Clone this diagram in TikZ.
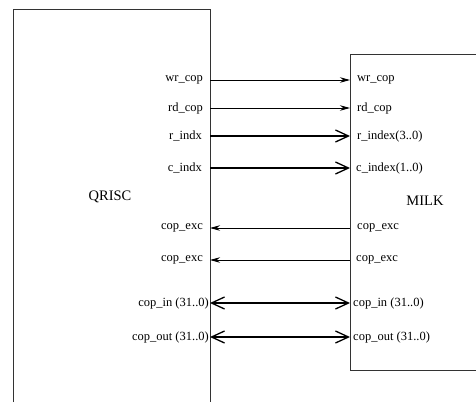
\documentclass[tikz,border=0pt]{standalone}
\usepackage{fontspec}
\setmainfont{Liberation Serif}
\usetikzlibrary{arrows.meta}
\begin{document}
\begin{tikzpicture}[x=1pt,y=-1pt,
  box/.style={line width=0.9pt, draw=black!80},
  lab/.style={font=\fontsize{12.5}{14}\selectfont, inner sep=0pt},
  big/.style={font=\fontsize{14.5}{16}\selectfont, inner sep=0pt},
  thinwire/.style={line width=0.8pt, -{Stealth[length=10pt,width=5.5pt]}},
  thinback/.style={line width=0.8pt, {Stealth[length=10pt,width=5.5pt]}-},
  bus/.style={line width=1.4pt, -{Straight Barb[length=13pt,width=12pt,line width=1.3pt]}},
  bibus/.style={line width=1.4pt, {Straight Barb[length=13pt,width=12pt,line width=1.3pt]}-{Straight Barb[length=13pt,width=12pt,line width=1.3pt]}}
]
\useasboundingbox (0,0) rectangle (476,402);
% QRISC box (open at bottom)
\coordinate (qbl) at (13,402);
\coordinate (qtl) at (13,9);
\coordinate (qtr) at (210,9);
\coordinate (qbr) at (210,402);
\draw[box] (qbl) -- (qtl) -- (qtr) -- (qbr);
% MILK box (open at right)
\coordinate (mtr) at (476,54);
\coordinate (mtl) at (350,54);
\coordinate (mbl) at (350,370);
\coordinate (mbr) at (476,370);
\draw[box] (mtr) -- (mtl) -- (mbl) -- (mbr);

\node[big] (qrisc) at (110,197) {QRISC};
\node[big] (milk) at (425,201) {MILK};

% ports
\foreach \n/\y in {a/80,b/108,c/136,d/168,e/228,f/260,g/303,h/337}{
  \coordinate (L\n) at (210,\y);
  \coordinate (R\n) at (350,\y);
}
% left labels
\node[lab,anchor=east] (la) at (203,80) {wr\_cop};
\node[lab,anchor=east] (lb) at (203,108) {rd\_cop};
\node[lab,anchor=east] (lc) at (202,136) {r\_indx};
\node[lab,anchor=east] (ld) at (202,168) {c\_indx};
\node[lab,anchor=east] (le) at (203,228) {cop\_exc};
\node[lab,anchor=east] (lf) at (203,260) {cop\_exc};
\node[lab,anchor=east] (lg) at (209,303) {cop\_in (31..0)};
\node[lab,anchor=east] (lh) at (209,337) {cop\_out (31..0)};
% right labels
\node[lab,anchor=west] (ra) at (357,80) {wr\_cop};
\node[lab,anchor=west] (rb) at (357,108) {rd\_cop};
\node[lab,anchor=west] (rc) at (357,136) {r\_index(3..0)};
\node[lab,anchor=west] (rd) at (356,168) {c\_index(1..0)};
\node[lab,anchor=west] (re) at (357,228) {cop\_exc};
\node[lab,anchor=west] (rf) at (356,260) {cop\_exc};
\node[lab,anchor=west] (rg) at (353,303) {cop\_in (31..0)};
\node[lab,anchor=west] (rh) at (353,337) {cop\_out (31..0)};

% connectors
\draw[thinwire] (La) -- (Ra);
\draw[thinwire] (Lb) -- (Rb);
\draw[bus] (Lc) -- (Rc);
\draw[bus] (Ld) -- (Rd);
\draw[thinback] (Le) -- (Re);
\draw[thinback] (Lf) -- (Rf);
\draw[bibus] (Lg) -- (Rg);
\draw[bibus] (Lh) -- (Rh);
\end{tikzpicture}
\end{document}
